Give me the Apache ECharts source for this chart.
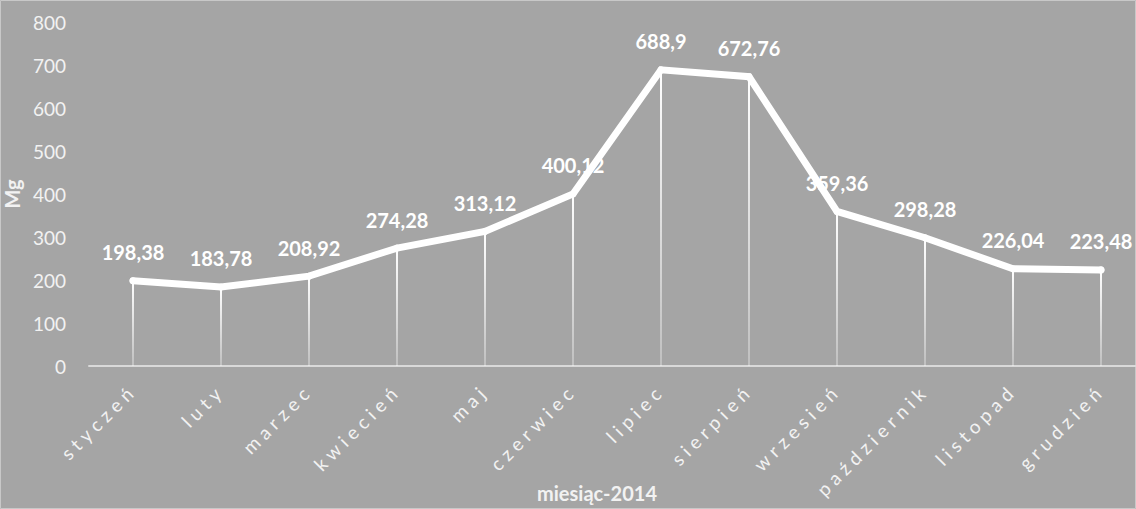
<!DOCTYPE html>
<html>
<head>
<meta charset="utf-8">
<script src="https://cdn.jsdelivr.net/npm/echarts@6/dist/echarts.min.js"></script>
<style>
html,body{margin:0;padding:0;background:#a5a5a5;}
#chart{width:1136px;height:509px;}
</style>
</head>
<body>
<div id="chart"></div>
<script>
const categories = ['styczeń','luty','marzec','kwiecień','maj','czerwiec','lipiec','sierpień','wrzesień','październik','listopad','grudzień'];
const values = [198.38, 183.78, 208.92, 274.28, 313.12, 400.12, 688.9, 672.76, 359.36, 298.28, 226.04, 223.48];
const yTicks = { min: 0, max: 800, interval: 100 };
const xTitle = 'miesiąc-2014';
const yTitle = 'Mg';

const chart = echarts.init(document.getElementById('chart'), null, { renderer: 'svg' });
const font = 'Lato, "Open Sans", sans-serif';
chart.setOption({
  backgroundColor: '#a5a5a5',
  animation: false,
  graphic: [{
    type: 'rect', shape: { x: 0.5, y: 0.5, width: 1135, height: 508 },
    style: { fill: 'none', stroke: '#c8c8c8', lineWidth: 1 }, silent: true
  }],
  grid: { left: 89, top: 22, width: 1056, height: 344, containLabel: false, outerBoundsMode: 'none' },
  xAxis: {
    type: 'category',
    data: categories,
    boundaryGap: true,
    name: xTitle,
    nameLocation: 'middle',
    nameGap: 117,
    nameTextStyle: { color: '#f2f2f2', fontFamily: font, fontSize: 20, fontWeight: 'bold', padding: [0, 40, 0, 0] },
    axisLine: { lineStyle: { color: '#d9d9d9', width: 2 } },
    axisTick: { show: false },
    axisLabel: { color: '#f2f2f2', fontFamily: font, fontSize: 19, rotate: 45, margin: 21, interval: 0 },
    splitLine: { show: false }
  },
  yAxis: {
    type: 'value',
    min: yTicks.min, max: yTicks.max, interval: yTicks.interval,
    name: yTitle,
    nameLocation: 'middle',
    nameGap: 61,
    nameRotate: 90,
    nameTextStyle: { color: '#f2f2f2', fontFamily: font, fontSize: 20, fontWeight: 'bold' },
    axisLine: { show: false },
    axisTick: { show: false },
    axisLabel: { color: '#f2f2f2', fontFamily: font, fontSize: 19, margin: 23 },
    splitLine: { show: false }
  },
  series: [
    {
      type: 'bar',
      data: values,
      barWidth: 2,
      silent: true,
      itemStyle: {
        color: new echarts.graphic.LinearGradient(0, 0, 0, 1, [
          { offset: 0, color: 'rgba(255,255,255,1)' },
          { offset: 1, color: 'rgba(255,255,255,0.3)' }
        ])
      },
      z: 1
    },
    {
      type: 'line',
      data: values,
      symbol: 'circle',
      symbolSize: 7,
      itemStyle: { color: '#ffffff' },
      lineStyle: { color: '#ffffff', width: 7, cap: 'round', join: 'miter' },
      label: {
        show: true,
        position: 'top',
        distance: 15,
        color: '#ffffff',
        fontFamily: font,
        fontSize: 20,
        fontWeight: 'bold',
        formatter: p => String(p.value).replace('.', ',')
      },
      z: 3
    }
  ]
});
// letter-spaced category labels, as in the original
document.querySelectorAll('#chart svg text').forEach(t => {
  if (categories.includes(t.textContent)) {
    t.style.letterSpacing = '5px';
  }
});
</script>
</body>
</html>
